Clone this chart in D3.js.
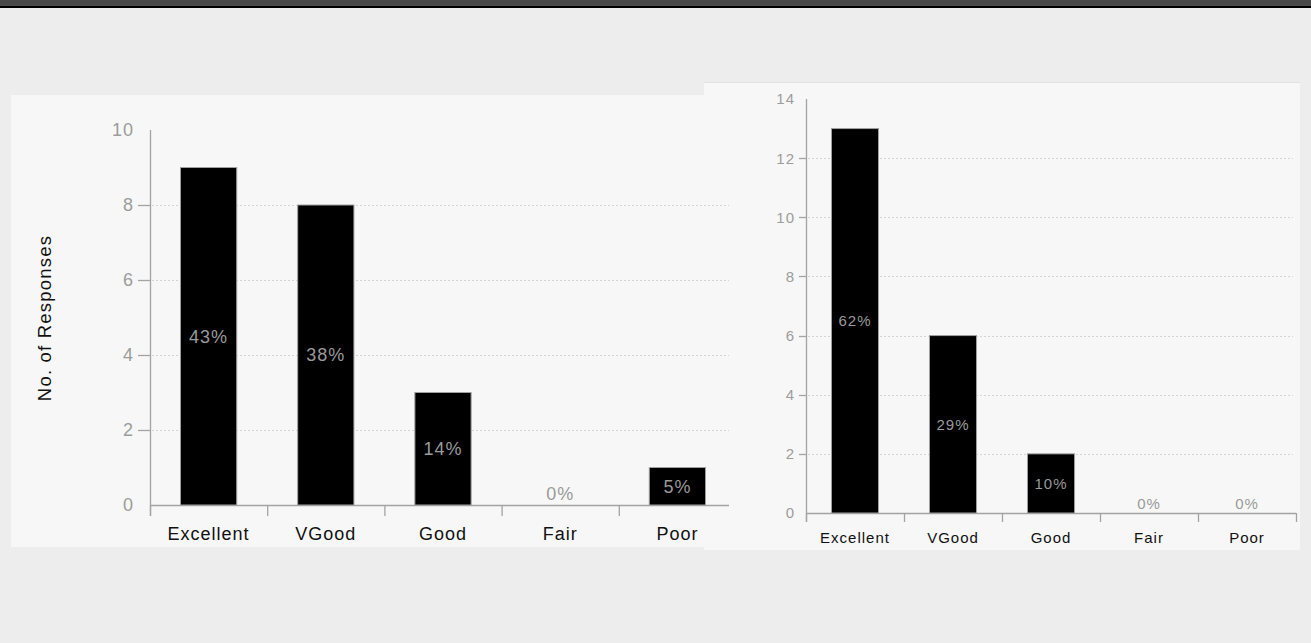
<!DOCTYPE html>
<html>
<head>
<meta charset="utf-8">
<script src="https://cdn.jsdelivr.net/npm/d3@7/dist/d3.min.js"></script>
<style>
  html, body { margin: 0; padding: 0; background: #ededed; }
  svg { display: block; }
  text { font-family: "Liberation Sans", Arial, sans-serif; }
</style>
</head>
<body>
<svg id="chart" width="1311" height="643"></svg>
<script>
// Survey response categories shared by both charts
const categories = ["Excellent", "VGood", "Good", "Fair", "Poor"];

// Response counts per category
const leftCounts = [9, 8, 3, 0, 1];
const rightCounts = [13, 6, 2, 0, 0];

// Y-axis tick values
const leftTicks = [0, 2, 4, 6, 8, 10];
const rightTicks = [0, 2, 4, 6, 8, 10, 12, 14];

const yTitle = "No. of Responses";

const svg = d3.select("#chart");
const W = 1311, H = 643;

// page background and header strip
svg.append("rect").attr("width", W).attr("height", H).attr("fill", "#ededed");
svg.append("rect").attr("width", W).attr("height", 6).attr("fill", "#4a4a4a");
svg.append("rect").attr("y", 6).attr("width", W).attr("height", 2).attr("fill", "#000");

// chart panels
svg.append("rect").attr("x", 11).attr("y", 95).attr("width", 693).attr("height", 452).attr("fill", "#f7f7f7");
svg.append("rect").attr("x", 704).attr("y", 83).attr("width", 596).attr("height", 467).attr("fill", "#f7f7f7");
svg.append("line").attr("x1", 704).attr("x2", 1300).attr("y1", 82.5).attr("y2", 82.5)
  .attr("stroke", "#e2e2e2").attr("stroke-width", 1);

svg.append("defs").append("clipPath").attr("id", "leftClip")
  .append("rect").attr("x", 0).attr("y", 0).attr("width", 729).attr("height", H);

function drawChart(g, cfg) {
  const counts = cfg.counts;
  const total = d3.sum(counts);
  const x = d3.scaleBand().domain(categories).range(cfg.xRange)
    .paddingInner(0.52).paddingOuter(0.26);
  const y = d3.scaleLinear().domain([0, d3.max(cfg.ticks)]).range(cfg.yRange);
  const y0 = y(0);
  const x0 = cfg.xRange[0], x1 = cfg.xRange[1];
  const step = x.step();
  const inner = cfg.ticks.slice(1, -1);
  const axisColor = "#a3a3a3";

  // dotted gridlines
  g.selectAll(".grid").data(inner).join("line")
    .attr("x1", x0 + 2).attr("x2", cfg.gridEnd)
    .attr("y1", d => Math.round(y(d)) + 0.5).attr("y2", d => Math.round(y(d)) + 0.5)
    .attr("stroke", "#d4d4d4").attr("stroke-dasharray", "2,2");

  // y axis line and tick marks
  g.append("line").attr("x1", x0 + 0.5).attr("x2", x0 + 0.5)
    .attr("y1", y(d3.max(cfg.ticks))).attr("y2", y0 + cfg.xTickLen)
    .attr("stroke", axisColor).attr("stroke-width", 1.3);
  g.selectAll(".ytick").data(inner).join("line")
    .attr("x1", x0 - cfg.yTickLen).attr("x2", x0)
    .attr("y1", d => Math.round(y(d)) + 0.5).attr("y2", d => Math.round(y(d)) + 0.5)
    .attr("stroke", axisColor).attr("stroke-width", 1.3);
  g.selectAll(".ylab").data(cfg.ticks).join("text")
    .attr("x", x0 - cfg.yTickLen - cfg.yLabelPad)
    .attr("y", d => y(d)).attr("dy", "0.36em")
    .attr("text-anchor", "end").attr("fill", "#9c9c9c")
    .attr("letter-spacing", cfg.spacing)
    .attr("font-size", cfg.tickFont).text(d => d);

  // x axis line with category boundary ticks
  g.append("line").attr("x1", x0).attr("x2", x1)
    .attr("y1", y0 + 0.5).attr("y2", y0 + 0.5)
    .attr("stroke", axisColor).attr("stroke-width", 1.3);
  g.selectAll(".xtick").data(d3.range(categories.length + 1)).join("line")
    .attr("x1", i => x0 + i * step + 0.5).attr("x2", i => x0 + i * step + 0.5)
    .attr("y1", y0).attr("y2", y0 + cfg.xTickLen)
    .attr("stroke", axisColor).attr("stroke-width", 1.3);

  // bars
  g.selectAll(".bar").data(counts).join("rect")
    .attr("x", (d, i) => x(categories[i]))
    .attr("y", d => y(d))
    .attr("width", x.bandwidth())
    .attr("height", d => y0 - y(d))
    .attr("fill", "#000").attr("stroke", "#a0a0a0").attr("stroke-width", 1);

  // percentage labels
  g.selectAll(".pct").data(counts).join("text")
    .attr("x", (d, i) => x(categories[i]) + x.bandwidth() / 2)
    .attr("y", d => Math.min((y(d) + y0) / 2, y0 - cfg.zeroLift))
    .attr("dy", "0.36em").attr("text-anchor", "middle")
    .attr("fill", "#9a9a9a").attr("font-size", cfg.pctFont)
    .attr("letter-spacing", cfg.spacing)
    .text(d => Math.round(d / total * 100) + "%");

  // category labels
  g.selectAll(".cat").data(categories).join("text")
    .attr("x", d => x(d) + x.bandwidth() / 2)
    .attr("y", cfg.catBaseline)
    .attr("text-anchor", "middle").attr("fill", "#111")
    .attr("letter-spacing", cfg.spacing)
    .attr("font-size", cfg.catFont).text(d => d);
}

const left = svg.append("g").attr("clip-path", "url(#leftClip)");
drawChart(left, {
  counts: leftCounts, ticks: leftTicks,
  xRange: [150, 736], yRange: [505, 130], gridEnd: 729,
  yTickLen: 12, yLabelPad: 4, xTickLen: 11, spacing: 1,
  tickFont: 18, pctFont: 18, catFont: 18, catBaseline: 540, zeroLift: 11
});

left.append("text")
  .attr("transform", "translate(51,318) rotate(-90)")
  .attr("text-anchor", "middle").attr("fill", "#111")
  .attr("letter-spacing", 1.2)
  .attr("font-size", 18.5).text(yTitle);

const right = svg.append("g");
drawChart(right, {
  counts: rightCounts, ticks: rightTicks,
  xRange: [806, 1296], yRange: [513, 99], gridEnd: 1293,
  yTickLen: 7, yLabelPad: 4, xTickLen: 9, spacing: 1,
  tickFont: 15, pctFont: 15, catFont: 15, catBaseline: 543, zeroLift: 9
});
</script>
</body>
</html>
